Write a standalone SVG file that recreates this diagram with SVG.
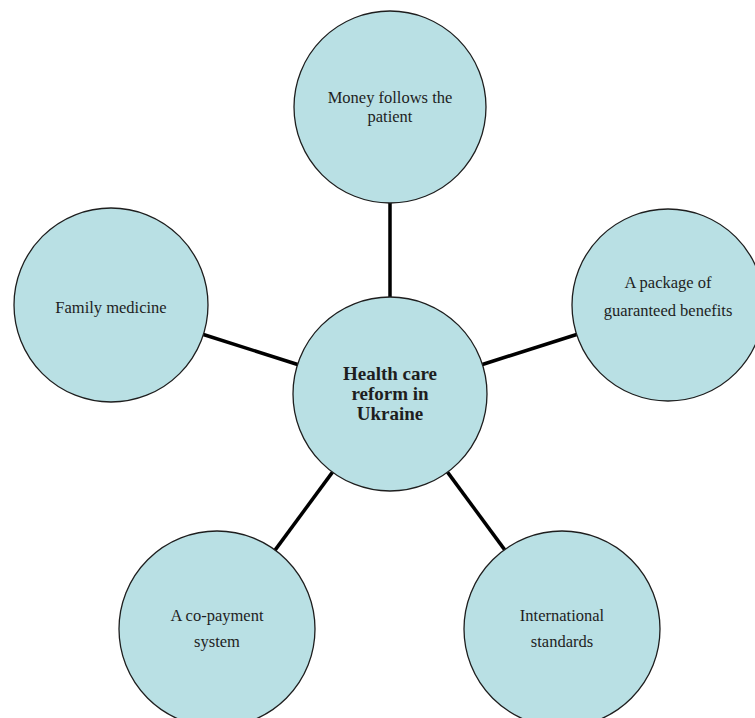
<svg xmlns="http://www.w3.org/2000/svg" width="755" height="718" viewBox="0 0 755 718">
<style>
.n{fill:#b9e0e4;stroke:#1e1e1e;stroke-width:1.3}
.t{font-family:"Liberation Serif","Times New Roman",serif;font-size:16.5px;fill:#1e1e1e;text-anchor:middle}
.b{font-weight:bold;font-size:19px}
.c line{stroke:#000;stroke-width:3.5}
</style>
<rect width="755" height="718" fill="#fff"/>
<g class="c" id="connectors">
<line x1="390" y1="202" x2="390" y2="298"/>
<line x1="297.6" y1="364.5" x2="203.4" y2="334.5"/>
<line x1="482.4" y1="364.5" x2="576.6" y2="334.5"/>
<line x1="332.5" y1="472.1" x2="274.5" y2="550.9"/>
<line x1="447.5" y1="472.1" x2="505.5" y2="550.9"/>
</g>
<g id="center"><circle class="n" cx="390" cy="394" r="97"/>
<text class="t b" x="390" y="380">Health care</text>
<text class="t b" x="390" y="400">reform in</text>
<text class="t b" x="390" y="420">Ukraine</text></g>
<g id="top"><circle class="n" cx="390" cy="107" r="96"/>
<text class="t" x="390" y="103">Money follows the</text>
<text class="t" x="390" y="122">patient</text></g>
<g id="right"><circle class="n" cx="668" cy="305" r="96"/>
<text class="t" x="668" y="288">A package of</text>
<text class="t" x="668" y="316">guaranteed benefits</text></g>
<g id="left"><circle class="n" cx="111" cy="305" r="97"/>
<text class="t" x="111" y="313">Family medicine</text></g>
<g id="bottomleft"><circle class="n" cx="217" cy="629" r="98"/>
<text class="t" x="217" y="621">A co-payment</text>
<text class="t" x="217" y="647">system</text></g>
<g id="bottomright"><circle class="n" cx="562" cy="629" r="98"/>
<text class="t" x="562" y="621">International</text>
<text class="t" x="562" y="647">standards</text></g>
</svg>
